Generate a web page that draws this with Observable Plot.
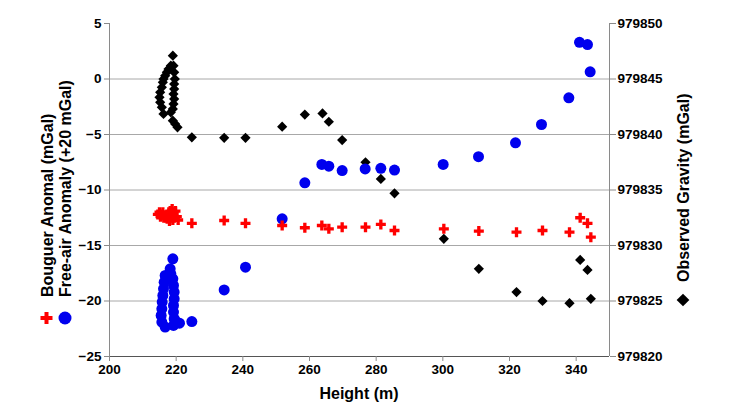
<!DOCTYPE html>
<html>
<head>
<meta charset="utf-8">
<script src="https://cdn.jsdelivr.net/npm/d3@7"></script>
<script src="https://cdn.jsdelivr.net/npm/@observablehq/plot@0.6"></script>
<style>
  html, body { margin: 0; padding: 0; background: #fff; }
  #chart { width: 756px; height: 410px; }
</style>
</head>
<body>
<div id="chart"></div>
<script>
// ---------- data ----------
// Observed gravity (mGal, right axis)
const gravHeight = [219.0,218.4,217.7,217.2,216.7,216.2,216.0,215.7,215.2,215.0,215.2,215.7,216.2,
  219.2,219.4,219.6,219.4,219.4,219.2,219.4,219.2,219.0,218.4,219.0,219.7,220.4,
  224.7,234.4,240.8,251.8,258.6,263.9,265.8,269.8,276.8,281.4,285.5,300.3,310.8,322.1,329.9,338.0,341.2,343.4,344.4];
const gravValue = [979847.1,979846.2,979845.9,979845.6,979845.3,979845.0,979844.7,979844.25,979843.8,979843.35,979842.9,979842.45,979841.85,
  979846.2,979845.6,979845.0,979844.55,979844.1,979843.65,979843.2,979842.75,979842.3,979842.0,979841.25,979840.95,979840.65,
  979839.75,979839.7,979839.7,979840.7,979841.8,979841.9,979841.15,979839.5,979837.5,979836.0,979834.7,979830.6,979827.9,979825.8,979825.0,979824.8,979828.7,979827.8,979825.2];

// Free-air anomaly (+20 mGal, left axis)
const freeHeight = [219.0,218.2,218.4,219.0,219.2,219.4,219.4,219.2,219.2,219.4,220.2,221.0,219.2,
  216.7,216.4,216.2,216.0,215.8,215.7,215.5,215.7,216.7,
  224.7,234.4,240.8,251.8,258.6,263.7,265.8,269.8,276.7,281.4,285.5,300.1,310.7,321.8,329.6,337.8,341.0,343.4,344.2];
const freeValue = [-16.2,-17.1,-17.55,-18.0,-18.6,-19.2,-19.8,-20.4,-21.0,-21.6,-21.9,-22.0,-22.2,
  -17.7,-18.3,-18.9,-19.5,-20.1,-20.7,-21.3,-21.9,-22.35,
  -21.85,-19.0,-16.95,-12.6,-9.35,-7.7,-7.85,-8.25,-8.1,-8.05,-8.2,-7.7,-7.0,-5.75,-4.1,-1.7,3.3,3.1,0.65];

// Bouguer anomaly (mGal, left axis)
const bougHeight = [214.5,215.0,215.3,215.8,216.3,216.8,217.3,217.8,218.2,218.5,218.8,219.0,219.2,219.5,219.8,220.2,220.6,218.0,216.0,
  224.7,234.4,240.8,251.8,258.6,263.7,265.8,269.8,276.8,281.4,285.5,300.3,310.8,322.1,329.9,338.0,341.2,343.4,344.4];
const bougValue = [-12.2,-12.0,-12.4,-12.2,-12.5,-12.3,-12.6,-12.2,-11.9,-12.4,-11.7,-12.7,-12.1,-12.5,-11.9,-12.4,-12.7,-12.8,-12.0,
  -13.0,-12.75,-13.0,-13.2,-13.4,-13.2,-13.5,-13.35,-13.35,-13.1,-13.65,-13.5,-13.7,-13.8,-13.65,-13.8,-12.5,-13.0,-14.25];

// axes
const xTicks = [200,220,240,260,280,300,320,340];
const leftTicks = [-25,-20,-15,-10,-5,0,5];
const rightTicks = [979820,979825,979830,979835,979840,979845,979850];
const gridTicks = [-20,-15,-10,-5,0];
const xDomain = [200,350];
const yDomain = [-25,5];
const gravOffset = rightTicks[0] - leftTicks[0]; // right axis value = left axis value + offset

const gravity = gravHeight.map((h,i)=>({h, g: gravValue[i]}));
const freeAir = freeHeight.map((h,i)=>({h, v: freeValue[i]}));
const bouguer = bougHeight.map((h,i)=>({h, v: bougValue[i]}));

const FONT = "'Liberation Sans', Arial, sans-serif";

const plot = Plot.plot({
  width: 756,
  height: 410,
  marginLeft: 109,
  marginRight: 147,
  marginTop: 23,
  marginBottom: 54,
  style: {fontFamily: FONT, fontSize: "13.5px", fontWeight: "bold", color: "#000", background: "#fff", overflow: "visible"},
  x: {domain: xDomain},
  y: {domain: yDomain},
  marks: [
    Plot.ruleY(gridTicks, {stroke: "#a8a8a8", strokeWidth: 1}),
    Plot.ruleX([xDomain[0]], {stroke: "#8a8a8a"}),
    Plot.ruleX([xDomain[1]], {stroke: "#8a8a8a"}),
    Plot.ruleY([yDomain[0]], {stroke: "#555"}),
    Plot.axisX({ticks: xTicks, tickSize: 5, tickPadding: 3, label: null, stroke: "#8a8a8a", fill: "#000"}),
    Plot.axisY({anchor: "left", ticks: leftTicks, tickSize: 5, tickPadding: 3, label: null, stroke: "#8a8a8a", fill: "#000"}),
    Plot.axisY({anchor: "right", ticks: rightTicks.map(t => t - gravOffset), tickFormat: d => String(d + gravOffset),
      tickSize: 6, tickPadding: 2, label: null, stroke: "#8a8a8a", fill: "#000"}),
    Plot.dot(gravity, {x: "h", y: d => d.g - gravOffset, symbol: "diamond2", r: 4.6, fill: "#000", stroke: "none"}),
    Plot.dot(freeAir, {x: "h", y: "v", symbol: "circle", r: 5.5, fill: "#0000ee", stroke: "none"}),
    Plot.dot(bouguer, {x: "h", y: "v", symbol: "cross", r: 4.2, fill: "#ff0000", stroke: "none"})
  ]
});

document.getElementById("chart").appendChild(plot);

// titles and legend symbols next to the axis titles
const svg = d3.select(plot);
const tstyle = s => s.attr("font-family", FONT).attr("font-size", "16px").attr("font-weight", "bold").attr("fill", "#000");

svg.append("text").call(tstyle).attr("x", 359).attr("y", 399).attr("text-anchor", "middle").text("Height (m)");
svg.append("text").call(tstyle).attr("transform", "translate(52.5,297) rotate(-90)").attr("text-anchor", "start").text("Bouguer Anomal (mGal)");
svg.append("text").call(tstyle).attr("transform", "translate(70.5,297) rotate(-90)").attr("text-anchor", "start").text("Free-air Anomaly (+20 mGal)");
svg.append("text").call(tstyle).attr("transform", "translate(688.5,282) rotate(-90)").attr("text-anchor", "start").text("Observed Gravity (mGal)");

svg.append("path").attr("transform", "translate(46.5,318)").attr("d", d3.symbol(d3.symbolCross, 80)()).attr("fill", "#ff0000");
svg.append("circle").attr("cx", 65).attr("cy", 318).attr("r", 6.5).attr("fill", "#0000ee");
svg.append("path").attr("transform", "translate(683,300) rotate(45)").attr("d", "M-4.5,-4.5H4.5V4.5H-4.5Z").attr("fill", "#000");
</script>
</body>
</html>
